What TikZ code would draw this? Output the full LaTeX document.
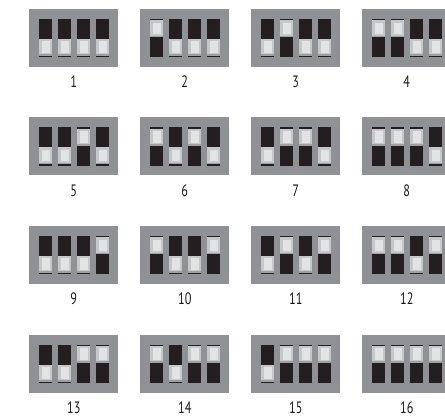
\documentclass[tikz,border=0pt]{standalone}
\usepackage{fontspec}
\setmainfont{PT Sans}[FakeStretch=0.74]
\definecolor{blockgray}{HTML}{909194}
\definecolor{slotblack}{HTML}{231F20}
\definecolor{knobouter}{HTML}{C6C7C9}
\definecolor{knobinner}{HTML}{E2E3E4}
\definecolor{knobshade}{HTML}{9FA0A2}
\tikzset{
  blockbox/.style={fill=blockgray, draw=none},
  slotbox/.style={fill=slotblack, draw=none},
  knobbox/.style={fill=knobouter, draw=none},
  knobface/.style={fill=knobinner, draw=none},
  knobedge/.style={fill=knobshade, draw=none},
  numlabel/.style={font=\fontsize{16.5}{16.5}\selectfont, inner sep=0pt, text=black!90}
}
\begin{document}
\begin{tikzpicture}[x=1pt,y=-1pt]
\useasboundingbox (0,0) rectangle (445,417);
\begin{scope}
\clip (0,0) rectangle (445,417);
\foreach \n in {0,...,15}{
  \pgfmathtruncatemacro{\col}{mod(\n,4)}
  \pgfmathtruncatemacro{\row}{div(\n,4)}
  \pgfmathtruncatemacro{\m}{\n+1}
  \pgfmathsetmacro{\bx}{29.3+111*\col}
  \pgfmathsetmacro{\by}{9+108.5*\row}
  \fill[blockbox] (\bx,\by) rectangle ++(89,58);
  \foreach \s in {0,...,3}{
    \pgfmathtruncatemacro{\bit}{mod(div(\n,2^\s),2)}
    \pgfmathsetmacro{\sx}{\bx+10+19*\s}
    \pgfmathsetmacro{\sy}{\by+10}
    \pgfmathsetmacro{\ky}{\bit==1 ? \sy+1.5 : \sy+20}
    \fill[slotbox] (\sx,\sy) rectangle ++(12.5,38.5);
    \fill[knobbox] (\sx,\ky) rectangle ++(12.5,17);
    \fill[knobedge] (\sx,\ky+15.3) rectangle ++(12.5,1.7);
    \fill[knobface] (\sx+2.2,\ky+2.2) rectangle ++(8.1,11.8);
  }
  \node[numlabel] (l\m) at (\bx+44.5,\by+73) {\m};
}
\end{scope}
\end{tikzpicture}
\end{document}
